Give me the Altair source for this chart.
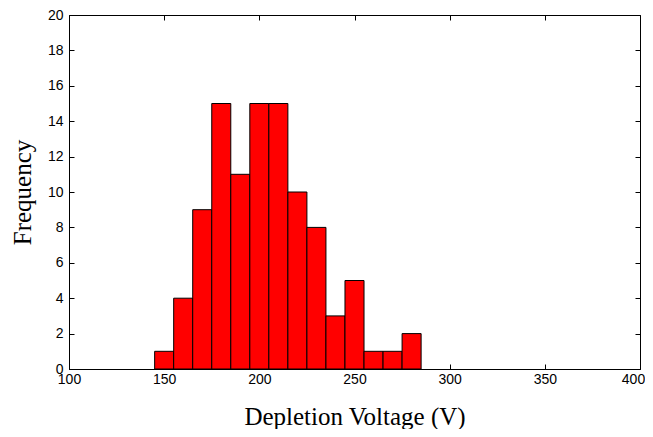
import altair as alt
import pandas as pd

bin_start = [145, 155, 165, 175, 185, 195, 205, 215, 225, 235, 245, 255, 265, 275]
bin_end = [155, 165, 175, 185, 195, 205, 215, 225, 235, 245, 255, 265, 275, 285]
counts = [1, 4, 9, 15, 11, 15, 15, 10, 8, 3, 5, 1, 1, 2]

x_ticks = [100, 150, 200, 250, 300, 350, 400]
y_ticks = [0, 2, 4, 6, 8, 10, 12, 14, 16, 18, 20]

W, H = 571, 354

df = pd.DataFrame({"start": bin_start, "end": bin_end, "count": counts})

xs = alt.Scale(domain=[100, 400], nice=False, zero=False)
ys = alt.Scale(domain=[0, 20], nice=False)

lab = dict(labelFont="Liberation Sans", labelFontSize=14, labelColor="black")
ttl = dict(titleFont="Liberation Serif", titleFontSize=25, titleFontWeight="normal", titleColor="black")

base = alt.Chart(df)

bars = base.mark_bar(color="#ff0000", stroke="black", strokeWidth=1).encode(
    x=alt.X("start:Q", scale=xs, axis=alt.Axis(
        values=x_ticks, ticks=False, labelPadding=3, domainColor="black",
        labelOffset={"condition": {"test": "datum.value == 400", "value": -7}, "value": 0},
        title="Depletion Voltage (V)", titlePadding=18, labelFlush=False, grid=False, **lab, **ttl)),
    x2="end:Q",
    y=alt.Y("count:Q", scale=ys, axis=alt.Axis(
        values=y_ticks, ticks=False, labelPadding=6, domainColor="black",
        title="Frequency", titlePadding=12, labelFlush=False, grid=False, **lab, **ttl)),
    y2=alt.datum(0),
)

tick_axis = dict(labels=False, domain=False, ticks=True, tickSize=5, tickColor="black", title=None, grid=False)

ticks_a = base.mark_point(opacity=0).encode(
    x=alt.X("start:Q", scale=xs, axis=alt.Axis(values=x_ticks, orient="top", offset=-H, **tick_axis)),
    y=alt.Y("count:Q", scale=ys, axis=alt.Axis(values=y_ticks, orient="right", offset=-W, **tick_axis)),
)
ticks_b = base.mark_point(opacity=0).encode(
    x=alt.X("start:Q", scale=xs, axis=alt.Axis(values=x_ticks, orient="bottom", offset=-H, **tick_axis)),
    y=alt.Y("count:Q", scale=ys, axis=alt.Axis(values=y_ticks, orient="left", offset=-W, **tick_axis)),
)

chart = alt.layer(bars, ticks_a, ticks_b).resolve_axis(
    x="independent", y="independent"
).properties(
    width=W, height=H,
    autosize=alt.AutoSizeParams(type="none"),
    padding={"left": 61, "top": 7, "right": 5, "bottom": 60},
    background="white",
).configure_view(stroke="black", strokeWidth=1)

chart.save("out.html", embed_options={"renderer": "svg", "actions": False})
